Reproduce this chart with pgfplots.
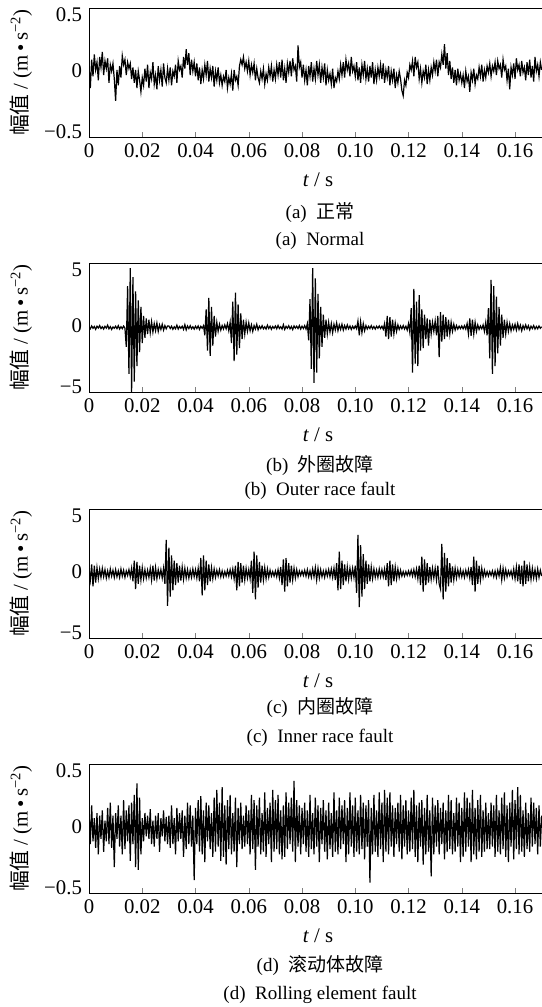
\documentclass[border=0pt]{standalone}
\usepackage{fontspec}
\setmainfont{Liberation Serif}
\newfontfamily\cjk{Noto Sans CJK SC}
\usepackage{pgfplots}
\usepackage{pgfplotstable}
\pgfplotsset{compat=1.18}

% vibration signals, one value every 0.0005 s from 0 to 0.17 s (20 values per line = 0.01 s)
\pgfplotstableread[header=false,row sep=\\]{
0.05\\-0.12\\0.10\\-0.03\\0.14\\0.02\\0.08\\-0.06\\0.12\\0.04\\0.16\\-0.02\\0.09\\0.03\\0.11\\-0.08\\0.06\\0.01\\0.07\\-0.05\\
-0.22\\0.02\\-0.10\\0.05\\-0.04\\0.13\\0.06\\0.10\\-0.02\\0.08\\0.03\\0.07\\-0.05\\0.04\\-0.08\\0.02\\-0.12\\0.01\\-0.06\\-0.15\\
-0.04\\-0.10\\0.03\\-0.07\\0.06\\-0.12\\0.00\\-0.05\\0.08\\-0.09\\-0.02\\-0.13\\0.05\\-0.06\\0.02\\-0.11\\0.07\\-0.04\\-0.08\\0.03\\
-0.06\\0.04\\-0.10\\0.01\\-0.03\\0.06\\-0.08\\0.09\\0.02\\0.05\\-0.04\\0.12\\0.03\\0.18\\0.06\\0.15\\-0.02\\0.10\\0.01\\0.08\\
-0.03\\0.07\\-0.06\\0.04\\-0.09\\0.02\\-0.05\\0.06\\-0.02\\0.09\\-0.07\\0.03\\-0.04\\0.05\\-0.11\\0.01\\-0.06\\0.04\\-0.08\\-0.02\\
-0.10\\-0.03\\-0.07\\0.02\\-0.12\\-0.04\\-0.09\\-0.01\\-0.14\\0.02\\-0.06\\-0.03\\-0.10\\0.05\\0.10\\0.06\\0.12\\0.03\\0.08\\0.01\\
0.09\\-0.02\\0.06\\0.00\\0.07\\-0.06\\0.03\\-0.04\\-0.08\\0.01\\-0.05\\0.03\\-0.09\\-0.01\\-0.06\\0.04\\-0.03\\0.05\\-0.07\\0.02\\
-0.05\\0.06\\-0.02\\0.08\\-0.04\\0.10\\-0.06\\0.03\\-0.08\\0.07\\0.00\\0.09\\-0.03\\0.11\\0.02\\0.05\\-0.07\\0.21\\0.04\\0.08\\
-0.04\\0.06\\-0.06\\0.02\\-0.10\\0.05\\-0.03\\0.08\\-0.07\\0.03\\-0.05\\0.09\\-0.02\\0.06\\-0.08\\0.04\\-0.04\\0.07\\-0.10\\0.02\\
-0.06\\-0.01\\-0.09\\0.03\\-0.12\\-0.04\\-0.07\\0.01\\-0.05\\0.06\\-0.02\\0.08\\-0.04\\0.10\\0.02\\0.07\\-0.03\\0.12\\0.01\\0.05\\
-0.03\\0.08\\-0.06\\0.04\\-0.08\\0.06\\-0.02\\0.09\\-0.05\\0.03\\-0.07\\0.05\\-0.04\\0.08\\-0.09\\0.02\\-0.06\\0.04\\-0.03\\0.06\\
-0.05\\0.07\\-0.08\\0.02\\-0.04\\0.05\\-0.10\\0.01\\-0.06\\0.03\\-0.12\\-0.02\\-0.08\\0.01\\-0.05\\-0.14\\-0.18\\-0.06\\-0.10\\0.00\\
-0.04\\0.06\\0.02\\0.09\\-0.03\\0.12\\0.04\\0.08\\-0.05\\0.03\\-0.08\\0.01\\-0.04\\0.06\\-0.09\\0.02\\-0.06\\0.04\\-0.02\\0.08\\
0.01\\0.10\\-0.03\\0.08\\0.04\\0.14\\0.06\\0.22\\0.03\\0.15\\-0.02\\0.09\\-0.05\\0.04\\-0.08\\0.02\\-0.10\\0.03\\-0.06\\-0.01\\
-0.08\\-0.02\\-0.12\\0.01\\-0.07\\-0.03\\-0.15\\0.00\\-0.06\\0.03\\-0.09\\-0.02\\-0.05\\0.04\\-0.03\\0.06\\-0.07\\0.02\\-0.04\\0.05\\
0.00\\0.07\\-0.03\\0.05\\0.01\\0.08\\-0.02\\0.09\\0.03\\0.06\\-0.04\\0.10\\0.02\\0.05\\-0.06\\0.03\\-0.13\\0.04\\-0.02\\0.07\\
-0.05\\0.11\\0.02\\0.06\\-0.03\\0.09\\0.00\\0.04\\-0.06\\0.08\\-0.02\\0.10\\-0.04\\0.05\\-0.07\\0.12\\0.01\\0.06\\-0.03\\0.08\\
0.02\\
}\sigA

\pgfplotstableread[header=false,row sep=\\]{
0.05\\-0.10\\0.12\\-0.06\\0.08\\-0.14\\0.10\\-0.04\\0.15\\-0.08\\0.06\\-0.12\\0.09\\-0.05\\0.18\\-0.10\\0.07\\-0.15\\0.04\\-0.06\\
0.10\\-0.08\\0.14\\-0.12\\0.06\\-0.09\\0.11\\-0.05\\-1.50\\3.20\\-3.60\\4.60\\-5.00\\3.90\\-4.20\\2.80\\-3.00\\2.10\\-1.90\\1.60\\
-1.20\\0.90\\-0.80\\0.70\\-0.50\\0.60\\-0.40\\0.45\\-0.35\\0.30\\-0.25\\0.35\\-0.30\\0.20\\-0.15\\0.25\\-0.20\\0.15\\-0.10\\0.12\\
0.12\\-0.08\\0.10\\-0.14\\0.06\\-0.10\\0.18\\-0.12\\0.08\\-0.06\\0.10\\-0.15\\0.22\\-0.18\\0.12\\-0.08\\0.14\\-0.10\\0.06\\-0.12\\
0.10\\-0.08\\0.12\\-0.15\\0.09\\-0.06\\0.14\\-0.60\\1.40\\-1.80\\2.30\\-2.20\\1.60\\-1.40\\0.90\\-0.70\\0.40\\-0.30\\0.25\\-0.20\\
0.15\\-0.12\\0.20\\-0.10\\0.30\\-0.25\\0.40\\-1.20\\2.00\\-2.60\\2.70\\-2.10\\1.80\\-1.60\\1.10\\-0.90\\0.60\\-0.50\\0.40\\-0.30\\
0.35\\-0.25\\0.20\\-0.30\\0.15\\-0.12\\0.25\\-0.18\\0.10\\-0.08\\0.14\\-0.10\\0.06\\-0.12\\0.18\\-0.08\\0.10\\-0.14\\0.08\\-0.06\\
0.12\\-0.10\\0.16\\-0.08\\0.06\\-0.12\\0.22\\-0.15\\0.09\\-0.06\\0.14\\-0.10\\0.08\\-0.16\\0.12\\-0.05\\0.10\\-0.08\\0.15\\-0.12\\
0.10\\-0.08\\0.14\\-0.12\\0.30\\-1.00\\2.20\\-3.20\\4.60\\-4.30\\3.80\\-3.50\\2.60\\-2.40\\1.60\\-1.50\\1.00\\-0.80\\0.60\\-0.50\\
0.40\\-0.35\\0.30\\-0.40\\0.25\\-0.20\\0.35\\-0.25\\0.20\\-0.15\\0.25\\-0.20\\0.15\\-0.12\\0.20\\-0.10\\0.12\\-0.15\\0.10\\-0.08\\
0.12\\-0.10\\0.50\\-0.60\\0.45\\-0.40\\0.30\\-0.25\\0.15\\-0.12\\0.10\\-0.08\\0.14\\-0.10\\0.08\\-0.12\\0.10\\-0.06\\0.12\\-0.08\\
0.10\\-0.14\\0.30\\-0.70\\0.90\\-0.90\\0.80\\-0.70\\0.60\\-0.50\\0.35\\-0.30\\0.20\\-0.15\\0.12\\-0.10\\0.15\\-0.12\\0.10\\-0.20\\
0.30\\-0.40\\1.50\\-3.50\\3.00\\-2.80\\2.00\\-3.00\\2.50\\-1.80\\1.40\\-1.60\\1.00\\-0.90\\0.70\\-1.40\\0.60\\-0.50\\0.40\\-0.30\\
0.50\\-0.60\\0.90\\-2.30\\1.20\\-1.10\\1.00\\-0.90\\0.80\\-0.70\\0.60\\-0.50\\0.40\\-0.30\\0.25\\-0.20\\0.15\\-0.12\\0.10\\-0.08\\
0.12\\-0.10\\0.14\\-0.12\\0.30\\-0.50\\0.70\\-0.65\\0.60\\-0.50\\0.40\\-0.30\\0.20\\-0.15\\0.12\\-0.10\\0.20\\-0.30\\0.40\\-0.60\\
1.50\\-2.40\\3.70\\-3.60\\3.20\\-3.00\\2.40\\-2.00\\1.60\\-1.40\\1.00\\-0.80\\0.60\\-0.50\\0.40\\-0.30\\0.30\\-0.25\\0.20\\-0.15\\
0.25\\-0.20\\0.30\\-0.15\\0.18\\-0.25\\0.15\\-0.12\\0.20\\-0.10\\0.14\\-0.18\\0.10\\-0.08\\0.15\\-0.12\\0.08\\-0.10\\0.12\\-0.06\\
0.05\\
}\sigB

\pgfplotstableread[header=false,row sep=\\]{
0.30\\-0.50\\0.70\\-1.00\\0.60\\-0.70\\0.45\\-0.40\\0.35\\-0.30\\0.40\\-0.25\\0.30\\-0.35\\0.20\\-0.30\\0.35\\-0.20\\0.25\\-0.30\\
0.30\\-0.25\\0.20\\-0.30\\0.35\\-0.20\\0.25\\-0.30\\0.20\\-0.15\\0.30\\-0.25\\0.40\\-0.60\\1.00\\-1.20\\0.90\\-0.80\\0.60\\-0.50\\
0.45\\-0.40\\0.30\\-0.35\\0.25\\-0.30\\0.40\\-0.50\\0.60\\-0.55\\0.45\\-0.40\\0.30\\-0.25\\0.30\\-0.35\\0.40\\-0.80\\2.60\\-2.50\\
2.00\\-1.80\\1.40\\-1.30\\1.00\\-0.90\\0.80\\-0.70\\0.60\\-0.55\\0.50\\-0.45\\0.40\\-0.35\\0.30\\-0.35\\0.25\\-0.30\\0.35\\-0.25\\
0.30\\-0.35\\0.40\\-0.60\\1.20\\-1.70\\1.40\\-1.30\\1.00\\-0.90\\0.70\\-0.60\\0.45\\-0.40\\0.35\\-0.30\\0.25\\-0.20\\0.30\\-0.25\\
0.20\\-0.25\\0.15\\-0.20\\0.25\\-0.20\\0.30\\-0.25\\0.35\\-0.40\\0.60\\-1.30\\0.90\\-1.00\\0.80\\-0.70\\0.60\\-0.50\\0.40\\-0.35\\
0.30\\-0.40\\1.00\\-1.50\\1.70\\-2.00\\1.40\\-1.10\\0.90\\-0.70\\0.60\\-0.50\\0.45\\-0.40\\0.35\\-0.30\\0.25\\-0.20\\0.15\\-0.20\\
0.20\\-0.25\\0.30\\-0.35\\0.50\\-0.90\\1.10\\-1.40\\1.20\\-1.00\\0.80\\-0.70\\0.60\\-0.50\\0.40\\-0.35\\0.30\\-0.25\\0.20\\-0.15\\
0.20\\-0.15\\0.25\\-0.20\\0.30\\-0.25\\0.20\\-0.30\\0.35\\-0.25\\0.45\\-0.50\\0.40\\-0.35\\0.30\\-0.25\\0.20\\-0.30\\0.25\\-0.20\\
0.30\\-0.25\\0.35\\-0.30\\0.40\\-0.50\\0.80\\-1.30\\1.70\\-1.20\\1.00\\-0.90\\0.70\\-0.60\\0.50\\-0.45\\0.40\\-0.35\\0.40\\-0.30\\
0.60\\-1.50\\3.00\\-2.60\\2.20\\-1.80\\1.50\\-1.20\\1.00\\-0.80\\0.70\\-0.60\\0.50\\-0.40\\0.35\\-0.30\\0.25\\-0.30\\0.35\\-0.25\\
0.30\\-0.25\\0.35\\-0.50\\0.80\\-1.00\\1.00\\-0.90\\0.70\\-0.60\\0.50\\-0.40\\0.35\\-0.30\\0.25\\-0.20\\0.15\\-0.20\\0.15\\-0.15\\
0.20\\-0.15\\0.25\\-0.20\\0.30\\-0.25\\0.35\\-0.40\\0.60\\-0.90\\1.30\\-1.40\\1.10\\-0.90\\0.80\\-0.70\\0.50\\-0.45\\0.40\\-0.35\\
0.40\\-0.50\\0.60\\-0.80\\-1.20\\2.30\\-2.00\\1.60\\-1.40\\1.20\\-1.00\\0.80\\-0.70\\0.55\\-0.50\\0.40\\-0.35\\0.30\\-0.25\\0.30\\
-0.25\\0.20\\-0.30\\0.25\\-0.20\\0.30\\-0.35\\0.50\\-0.90\\1.30\\-1.40\\1.00\\-0.80\\0.60\\-0.50\\0.40\\-0.30\\0.25\\-0.20\\0.15\\
-0.20\\0.15\\-0.15\\0.20\\-0.25\\0.20\\-0.30\\0.25\\-0.20\\0.45\\-0.50\\0.40\\-0.35\\0.30\\-0.25\\0.20\\-0.15\\0.20\\-0.30\\0.35\\
-0.40\\0.50\\-0.60\\0.70\\-0.80\\0.60\\-1.00\\1.00\\-0.80\\0.70\\-0.60\\0.50\\-0.45\\0.40\\-0.35\\0.30\\-0.40\\0.35\\-0.30\\0.25\\
-0.20\\
}\sigC

\pgfplotstableread[header=false,row sep=\\]{
0.15\\-0.12\\0.18\\-0.10\\0.08\\-0.15\\0.12\\-0.20\\0.10\\-0.08\\0.14\\-0.18\\0.06\\-0.10\\0.16\\-0.12\\0.20\\-0.15\\0.10\\-0.30\\
0.12\\-0.08\\0.18\\-0.14\\0.10\\-0.20\\0.22\\-0.16\\0.14\\-0.10\\0.18\\-0.25\\0.20\\-0.12\\0.26\\-0.30\\0.35\\-0.32\\0.24\\-0.20\\
0.08\\-0.10\\0.12\\-0.06\\0.10\\-0.08\\0.15\\-0.12\\0.06\\-0.14\\0.10\\-0.08\\0.12\\-0.18\\0.08\\-0.06\\0.14\\-0.10\\0.09\\-0.12\\
0.10\\-0.15\\0.18\\-0.12\\0.08\\-0.20\\0.16\\-0.10\\0.12\\-0.08\\0.14\\-0.22\\0.10\\-0.16\\0.20\\-0.12\\0.18\\-0.14\\0.10\\-0.40\\
0.16\\-0.12\\0.22\\-0.18\\0.25\\-0.20\\0.14\\-0.26\\0.20\\-0.10\\0.18\\-0.16\\0.12\\-0.22\\0.24\\-0.18\\0.30\\-0.14\\0.20\\-0.25\\
0.32\\-0.22\\0.18\\-0.28\\0.22\\-0.16\\0.26\\-0.20\\0.12\\-0.18\\0.24\\-0.30\\0.16\\-0.12\\0.20\\-0.16\\0.10\\-0.14\\0.18\\-0.12\\
0.14\\-0.20\\0.26\\-0.16\\0.22\\-0.32\\0.18\\-0.14\\0.24\\-0.20\\0.12\\-0.18\\0.28\\-0.22\\0.16\\-0.12\\0.20\\-0.26\\0.30\\-0.18\\
0.22\\-0.16\\0.26\\-0.20\\0.14\\-0.24\\0.18\\-0.22\\0.28\\-0.16\\0.20\\-0.12\\0.24\\-0.18\\0.37\\-0.26\\0.22\\-0.14\\0.18\\-0.20\\
0.16\\-0.12\\0.20\\-0.18\\0.14\\-0.22\\0.26\\-0.16\\0.12\\-0.20\\0.24\\-0.14\\0.18\\-0.26\\0.16\\-0.12\\0.22\\-0.18\\0.14\\-0.24\\
0.20\\-0.16\\0.12\\-0.22\\0.28\\-0.18\\0.14\\-0.20\\0.24\\-0.16\\0.18\\-0.12\\0.22\\-0.26\\0.16\\-0.20\\0.28\\-0.14\\0.18\\-0.22\\
0.24\\-0.18\\0.14\\-0.20\\0.26\\-0.16\\0.20\\-0.24\\0.18\\-0.14\\0.22\\-0.42\\0.16\\-0.20\\0.26\\-0.18\\0.14\\-0.22\\0.28\\-0.16\\
0.20\\-0.26\\0.30\\-0.18\\0.24\\-0.20\\0.28\\-0.14\\0.18\\-0.22\\0.16\\-0.12\\0.20\\-0.18\\0.26\\-0.24\\0.18\\-0.14\\0.22\\-0.20\\
0.14\\-0.18\\0.24\\-0.16\\0.30\\-0.22\\0.18\\-0.26\\0.20\\-0.14\\0.22\\-0.28\\0.16\\-0.20\\0.26\\-0.18\\0.14\\-0.37\\0.24\\-0.20\\
0.18\\-0.14\\0.22\\-0.20\\0.16\\-0.12\\0.20\\-0.24\\0.14\\-0.18\\0.26\\-0.16\\0.22\\-0.20\\0.12\\-0.18\\0.24\\-0.14\\0.20\\-0.26\\
0.16\\-0.22\\0.28\\-0.18\\0.24\\-0.14\\0.20\\-0.26\\0.30\\-0.20\\0.16\\-0.24\\0.22\\-0.18\\0.26\\-0.22\\0.14\\-0.18\\0.20\\-0.16\\
0.12\\-0.16\\0.20\\-0.14\\0.18\\-0.22\\0.26\\-0.18\\0.14\\-0.20\\0.24\\-0.16\\0.28\\-0.22\\0.18\\-0.26\\0.20\\-0.14\\0.30\\-0.24\\
0.22\\-0.16\\0.32\\-0.20\\0.26\\-0.18\\0.14\\-0.22\\0.20\\-0.16\\0.12\\-0.18\\0.24\\-0.14\\0.20\\-0.12\\0.16\\-0.20\\0.18\\-0.14\\
0.10\\
}\sigD

% y tick labels sit a little inside the frame, as in the original
\newcommand\lo[1]{\raisebox{-3.2pt}[\height][\depth]{#1}}
\newcommand\mi[1]{\raisebox{0.8pt}[\height][\depth]{#1}}
\newcommand\hi[1]{\raisebox{2.4pt}[\height][\depth]{#1}}

\pgfplotsset{
  sig/.style={
    scale only axis, width=229pt, height=64.5pt,
    anchor=south west,
    xmin=0, xmax=0.172,
    axis line style={line width=0.5pt},
    xtick={0,0.02,0.04,0.06,0.08,0.10,0.12,0.14,0.16},
    xticklabels={0,0.02,0.04,0.06,0.08,0.10,0.12,0.14,0.16},
    tick align=inside, xtick pos=bottom, major tick length=2.5pt,
    ytick style={draw=none},
    ticklabel style={font=\fontsize{10.4}{12}\selectfont},
    xlabel={\textit{t} / s},
    xlabel style={at={(axis description cs:0.5,0)}, anchor=center, yshift=-21.5pt, font=\fontsize{10.4}{12}\selectfont},
    ylabel={{\cjk 幅值} / (m\,•\,s\textsuperscript{−2})},
    ylabel style={at={(axis description cs:0,0.5)}, anchor=center, yshift=34pt, font=\fontsize{10.4}{12}\selectfont},
  },
  ysmall/.style={ymin=-0.5, ymax=0.5, ytick={-0.5,0,0.5}, yticklabels={\hi{−0.5},\mi{0},\lo{0.5}}},
  ylarge/.style={ymin=-5, ymax=5, ytick={-5,0,5}, yticklabels={\hi{−5},\mi{0},\lo{5}}},
  trace/.style={black, line width=0.6pt, mark=none},
}

\begin{document}
\begin{tikzpicture}
\tikzset{capt/.style={font=\fontsize{9.5}{11}\selectfont}}

\begin{axis}[sig, ysmall, at={(44.5pt,-68.5pt)}]
\addplot[trace] table[x expr=\coordindex*0.0005, y index=0] {\sigA};
\end{axis}
\node[capt] at (160pt,-106.5pt) {(a)\hspace{0.5em}{\cjk 正常}};
\node[capt] at (160pt,-120.5pt) {(a)\hspace{0.5em}Normal};

\begin{axis}[sig, ylarge, at={(44.5pt,-196pt)}]
\addplot[trace] table[x expr=\coordindex*0.0005, y index=0] {\sigB};
\end{axis}
\node[capt] at (160pt,-232.5pt) {(b)\hspace{0.5em}{\cjk 外圈故障}};
\node[capt] at (160pt,-245.5pt) {(b)\hspace{0.5em}Outer race fault};

\begin{axis}[sig, ylarge, at={(44.5pt,-319pt)}]
\addplot[trace] table[x expr=\coordindex*0.0005, y index=0] {\sigC};
\end{axis}
\node[capt] at (160pt,-353.5pt) {(c)\hspace{0.5em}{\cjk 内圈故障}};
\node[capt] at (160pt,-369pt) {(c)\hspace{0.5em}Inner race fault};

\begin{axis}[sig, ysmall, at={(44.5pt,-446.5pt)}]
\addplot[trace] table[x expr=\coordindex*0.0005, y index=0] {\sigD};
\end{axis}
\node[capt] at (160pt,-482.5pt) {(d)\hspace{0.5em}{\cjk 滚动体故障}};
\node[capt] at (160pt,-497.5pt) {(d)\hspace{0.5em}Rolling element fault};

\pgfresetboundingbox
\path[use as bounding box] (0,0) rectangle (270.5pt,-503.5pt);
\end{tikzpicture}
\end{document}
